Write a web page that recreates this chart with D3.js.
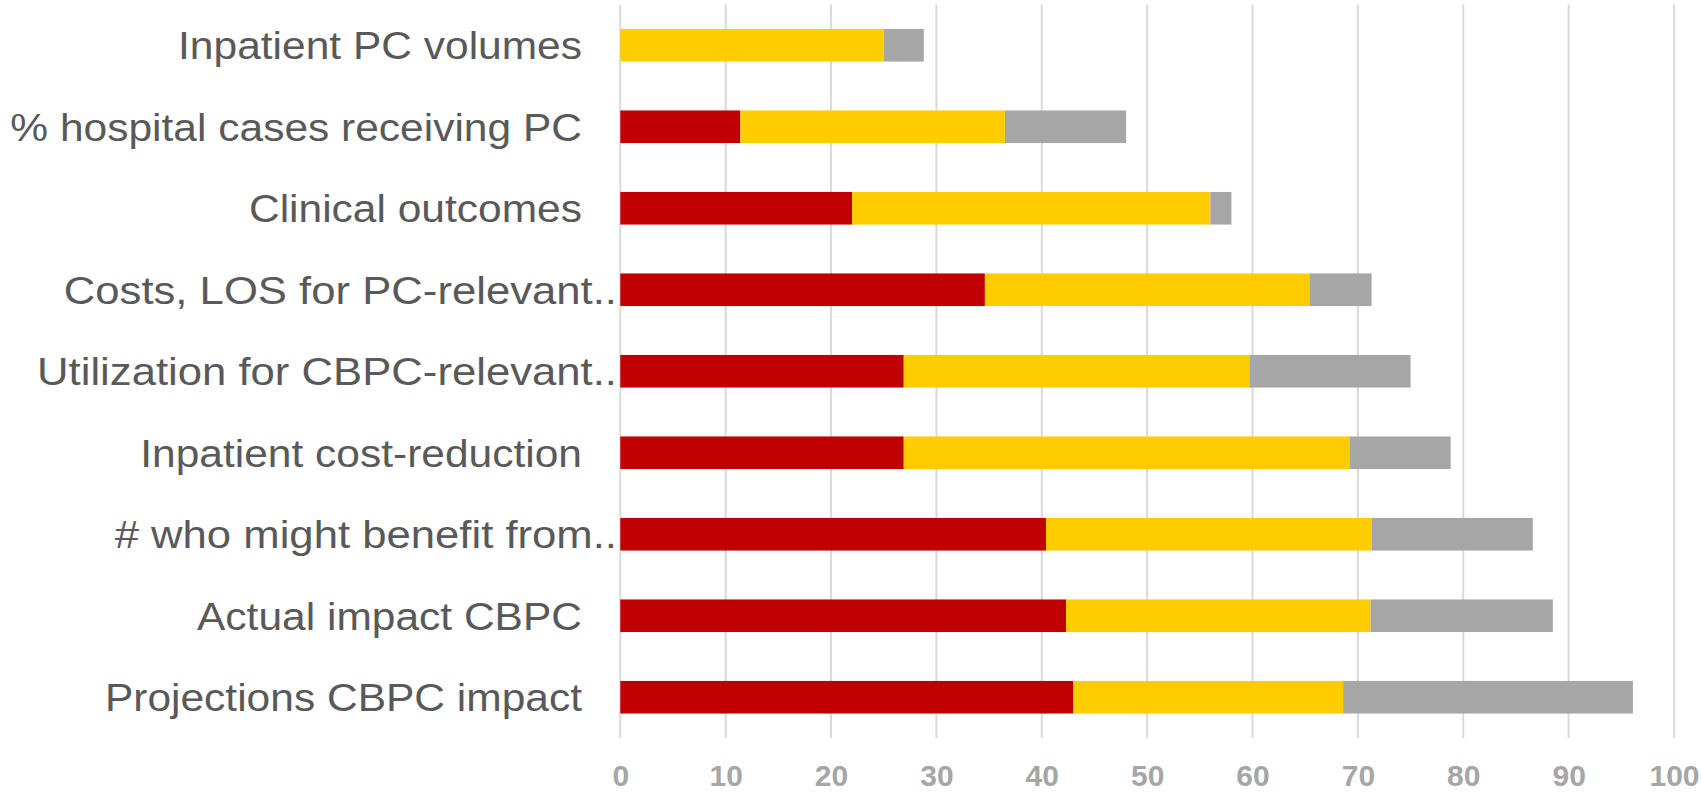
<!DOCTYPE html>
<html>
<head>
<meta charset="utf-8">
<script src="https://cdn.jsdelivr.net/npm/d3@7"></script>
<style>
  html, body { margin: 0; padding: 0; background: #ffffff; }
  svg { display: block; }
</style>
</head>
<body>
<svg id="chart" width="1701" height="793"></svg>
<script>
// ---- data ----
const categories = [
  "Inpatient PC volumes",
  "% hospital cases receiving PC",
  "Clinical outcomes",
  "Costs, LOS for PC-relevant..",
  "Utilization for CBPC-relevant..",
  "Inpatient cost-reduction",
  "# who might benefit from..",
  "Actual impact CBPC",
  "Projections CBPC impact"
];
const truncated = [false, false, false, true, true, false, true, false, false];
const seriesNames = ["red", "yellow", "gray"];
const redValues    = [0.0, 11.4, 22.0, 34.6, 26.9, 26.9, 40.4, 42.3, 43.0];
const yellowValues = [25.0, 25.1, 34.0, 30.8, 32.8, 42.3, 30.9, 28.9, 25.6];
const grayValues   = [3.8, 11.5, 2.0, 5.9, 15.3, 9.6, 15.3, 17.3, 27.5];
const tickValues = [0, 10, 20, 30, 40, 50, 60, 70, 80, 90, 100];

// ---- layout ----
const colors = { red: "#c00000", yellow: "#ffcc00", gray: "#a6a6a6" };
const svg = d3.select("#chart");
const x = d3.scaleLinear().domain([0, 100]).range([620.3, 1674]);
const y = d3.scaleBand().domain(categories).range([4.5, 738]).paddingInner(0.6).paddingOuter(0.3);

const rows = categories.map((c, i) => ({
  category: c, red: redValues[i], yellow: yellowValues[i], gray: grayValues[i]
}));
const stacked = d3.stack().keys(seriesNames)(rows);

// gridlines
svg.append("g")
  .selectAll("line")
  .data(tickValues)
  .join("line")
  .attr("x1", d => x(d)).attr("x2", d => x(d))
  .attr("y1", 4.5).attr("y2", 738)
  .attr("stroke", "#d9d9d9")
  .attr("stroke-width", 2);

// bars
svg.append("g")
  .selectAll("g")
  .data(stacked)
  .join("g")
  .attr("fill", s => colors[s.key])
  .selectAll("rect")
  .data(s => s)
  .join("rect")
  .attr("x", d => x(d[0]))
  .attr("width", d => Math.max(0, x(d[1]) - x(d[0])))
  .attr("y", d => y(d.data.category))
  .attr("height", y.bandwidth());

// x axis tick labels
const xAxis = d3.axisBottom(x).tickValues(tickValues).tickSize(0).tickPadding(0).tickFormat(d3.format("d"));
const gx = svg.append("g").attr("transform", "translate(0,765)").call(xAxis);
gx.select(".domain").remove();
gx.selectAll("text")
  .attr("fill", "#a6a6a6")
  .attr("font-family", "'Liberation Sans', Arial, sans-serif")
  .attr("font-weight", "bold")
  .attr("font-size", 30)
  .attr("dy", "0.71em");

// y axis category labels
const gy = svg.append("g");
gy.selectAll("text")
  .data(categories)
  .join("text")
  .attr("transform", (d, i) => `translate(${truncated[i] ? 617 : 582},${y(d) + y.bandwidth() / 2}) scale(${truncated[i] ? 1.12 : 1.09},1)`)
  .attr("x", 0)
  .attr("y", 0)
  .attr("dy", "0.36em")
  .attr("text-anchor", "end")
  .attr("fill", "#595959")
  .attr("font-family", "'Liberation Sans', Arial, sans-serif")
  .attr("font-size", 39)
  .text(d => d);
</script>
</body>
</html>
